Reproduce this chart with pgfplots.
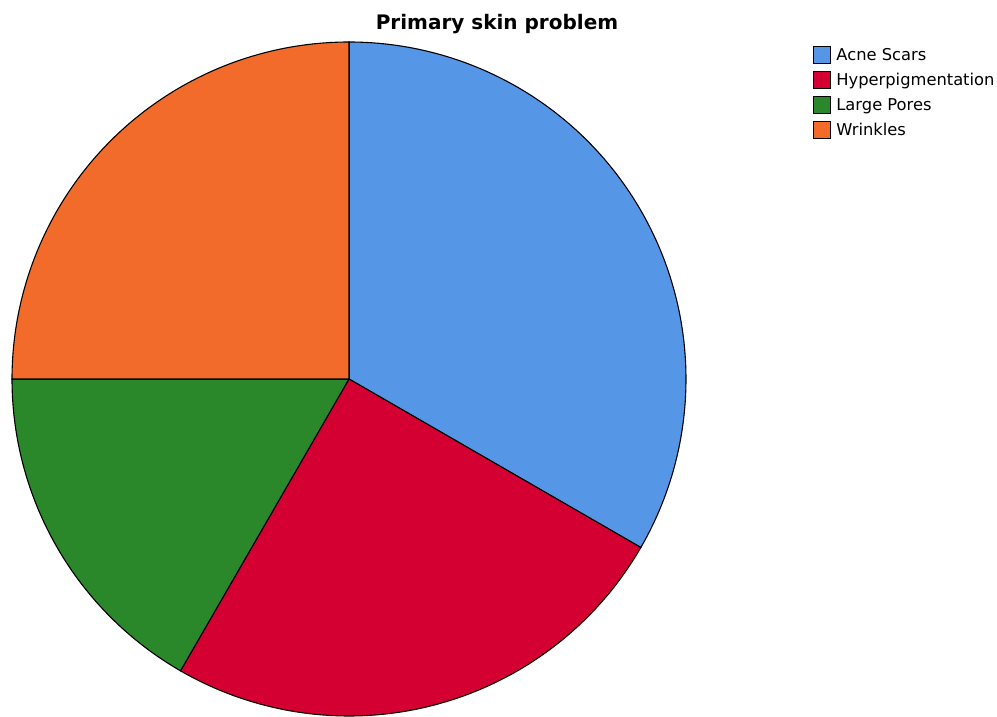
\documentclass[border=0pt]{standalone}
\usepackage{pgfplots}
\pgfplotsset{compat=1.18}
\usepackage{fontspec}
\setmainfont{DejaVu Sans}
\definecolor{cA}{HTML}{5596E6}
\definecolor{cB}{HTML}{D50032}
\definecolor{cC}{HTML}{2A872A}
\definecolor{cD}{HTML}{F26B2B}
% slice values (percent)
\def\vA{33.333}\def\vB{25}\def\vC{16.667}\def\vD{25}
\begin{document}
\begin{tikzpicture}
\useasboundingbox (0bp,0bp) rectangle (997bp,717bp);
\pgfmathsetmacro{\aA}{90}
\pgfmathsetmacro{\aB}{\aA-3.6*\vA}
\pgfmathsetmacro{\aC}{\aB-3.6*\vB}
\pgfmathsetmacro{\aD}{\aC-3.6*\vC}
\pgfmathsetmacro{\aE}{\aD-3.6*\vD}
\node[font=\bfseries\fontsize{20bp}{24bp}\selectfont, anchor=base] at (497bp,687bp) {Primary skin problem};
\begin{axis}[at={(349bp,338bp)}, anchor=center, width=674bp, height=674bp,
  scale only axis, hide axis, xmin=-1, xmax=1, ymin=-1, ymax=1, clip=false,
  legend style={at={(1.188,0.994)}, anchor=north west, draw=none, fill=none,
    font=\fontsize{16.3bp}{19bp}\selectfont, row sep=6.8bp, column sep=3.5bp, cells={anchor=west}, inner sep=0pt},
  legend image code/.code={\draw[#1,draw=black,line width=1bp] (0bp,-8.5bp) rectangle (17bp,8.5bp);}]
\addplot[fill=cA, draw=black, line width=1.1bp, domain=\aB:\aA, samples=120, variable=\t] ({cos(\t)},{sin(\t)}) -- (axis cs:0,0) -- cycle;
\addlegendentry{Acne Scars}
\addplot[fill=cB, draw=black, line width=1.1bp, domain=\aC:\aB, samples=100, variable=\t] ({cos(\t)},{sin(\t)}) -- (axis cs:0,0) -- cycle;
\addlegendentry{Hyperpigmentation}
\addplot[fill=cC, draw=black, line width=1.1bp, domain=\aD:\aC, samples=80, variable=\t] ({cos(\t)},{sin(\t)}) -- (axis cs:0,0) -- cycle;
\addlegendentry{Large Pores}
\addplot[fill=cD, draw=black, line width=1.1bp, domain=\aE:\aD, samples=100, variable=\t] ({cos(\t)},{sin(\t)}) -- (axis cs:0,0) -- cycle;
\addlegendentry{Wrinkles}
\end{axis}
\end{tikzpicture}
\end{document}
